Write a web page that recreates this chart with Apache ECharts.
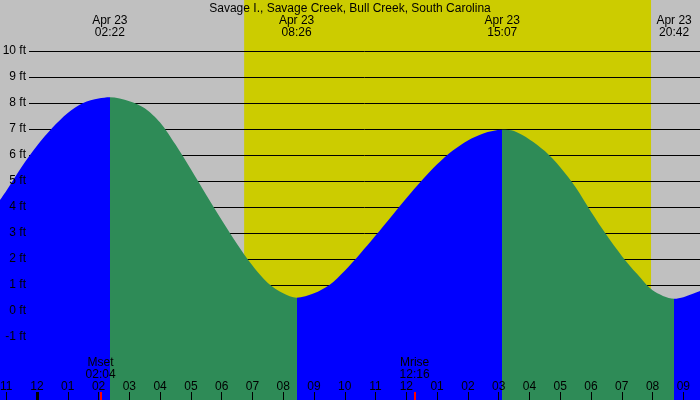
<!DOCTYPE html>
<html>
<head>
<meta charset="utf-8">
<script src="https://cdn.jsdelivr.net/npm/echarts@6.0.0/dist/echarts.min.js"></script>
</head>
<body style="margin: 0">
<div id="main" style="width: 700px; height: 400px"></div>
<script type="text/javascript">
// hours are counted from midnight, Apr 23
var chartTitle = 'Savage I., Savage Creek, Bull Creek, South Carolina';
var tideHours = [-1.202, -1.0, -0.5, 0.0, 0.5, 1.0, 1.5, 2.0, 2.367, 3.0, 3.5, 4.0, 4.5,
  5.0, 5.5, 6.0, 6.5, 7.0, 7.5, 8.0, 8.433, 9.0, 9.5, 10.0, 10.5, 11.0, 11.5,
  12.0, 12.5, 13.0, 13.5, 14.0, 14.5, 15.117, 15.5, 16.0, 16.5, 17.0, 17.5,
  18.0, 18.5, 19.0, 19.5, 20.0, 20.7, 21.0, 21.541];
var tideFeet = [4.27, 4.62, 5.54, 6.36, 7.05, 7.62, 8.0, 8.17, 8.22, 8.07, 7.8, 7.25, 6.4,
  5.45, 4.46, 3.5, 2.58, 1.75, 1.08, 0.68, 0.51, 0.68, 1.0, 1.55, 2.2, 2.9, 3.62,
  4.34, 5.02, 5.64, 6.16, 6.56, 6.83, 6.97, 6.92, 6.6, 6.15, 5.53, 4.76,
  3.82, 2.93, 2.12, 1.42, 0.8, 0.47, 0.53, 0.77];
var extremeHours = [2.367, 8.433, 15.117, 20.700];
var extremeKinds = ['H', 'L', 'H', 'L'];
var extremeLabels = ['Apr 23\n02:22', 'Apr 23\n08:26', 'Apr 23\n15:07', 'Apr 23\n20:42'];
var moonHours = [2.067, 12.267];
var moonLabels = ['Mset\n02:04', 'Mrise\n12:16'];
var sunriseHour = 6.73;
var sunsetHour = 19.95;
var hourTicks = [];
for (var h = -1; h <= 21; h++) hourTicks.push(h);
var viewStart = -1.202, viewEnd = 21.541;
var feetMin = -3.423, feetMax = 11.962;

var FONT = 'Liberation Sans';
var risingColor = '#0000ff', fallingColor = '#2e8b57';

var tideData = [];
for (var i = 0; i < tideHours.length; i++) tideData.push([tideHours[i], tideFeet[i]]);

// rising toward a high = blue, falling toward a low = green
var pieces = [];
for (var k = 0; k <= extremeHours.length; k++) {
  var p = {};
  if (k > 0) p.gte = extremeHours[k - 1];
  if (k < extremeHours.length) {
    p.lt = extremeHours[k];
    p.color = extremeKinds[k] === 'H' ? risingColor : fallingColor;
  } else {
    p.color = extremeKinds[k - 1] === 'H' ? fallingColor : risingColor;
  }
  pieces.push(p);
}

function lookup(keys, labels, v) {
  for (var j = 0; j < keys.length; j++) {
    if (Math.abs(keys[j] - v) < 1e-6) return labels[j];
  }
  return '';
}
function hourLabel(v) {
  var hh = ((Math.round(v) % 12) + 12) % 12;
  if (hh === 0) hh = 12;
  return (hh < 10 ? '0' : '') + hh;
}

var txt = { color: '#000', fontSize: 12, fontFamily: FONT, lineHeight: 12 };
function bottomAxis(extra) {
  var a = {
    gridIndex: 0, type: 'value', position: 'bottom', min: viewStart, max: viewEnd, z: 10,
    axisLine: { show: false, onZero: false }, splitLine: { show: false }
  };
  for (var key in extra) a[key] = extra[key];
  return a;
}

var myChart = echarts.init(document.getElementById('main'));
var option = {
  animation: false,
  backgroundColor: '#c0c0c0',
  title: {
    text: chartTitle, left: 'center', top: 3, padding: 0,
    textStyle: { color: '#000', fontSize: 12, fontWeight: 'normal', fontFamily: FONT, lineHeight: 12 }
  },
  grid: [
    { left: 0, right: 0, top: 0, bottom: 0, outerBoundsMode: 'none' },
    { left: 29, right: 0, top: 51, bottom: 63, outerBoundsMode: 'none' }
  ],
  xAxis: [
    bottomAxis({
      axisTick: { customValues: hourTicks, inside: true, length: 8, lineStyle: { color: '#000', width: 1 } },
      axisLabel: Object.assign({ customValues: hourTicks, inside: true, margin: 7, formatter: hourLabel }, txt)
    }),
    bottomAxis({
      axisTick: { customValues: [0], inside: true, length: 8, lineStyle: { color: '#000', width: 3 } },
      axisLabel: { show: false }
    }),
    bottomAxis({
      axisTick: { customValues: moonHours, inside: true, length: 8, lineStyle: { color: '#ff0000', width: 2 } },
      axisLabel: Object.assign({
        customValues: moonHours, inside: true, margin: 19,
        formatter: function (v) { return lookup(moonHours, moonLabels, v); }
      }, txt)
    }),
    {
      gridIndex: 0, type: 'value', position: 'top', min: viewStart, max: viewEnd, z: 10,
      axisLine: { show: false, onZero: false }, axisTick: { show: false }, splitLine: { show: false },
      axisLabel: Object.assign({
        customValues: extremeHours, inside: true, margin: 15,
        formatter: function (v) { return lookup(extremeHours, extremeLabels, v); }
      }, txt)
    },
    { gridIndex: 1, type: 'value', show: false, min: 0, max: 1 }
  ],
  yAxis: [
    { gridIndex: 0, type: 'value', min: feetMin, max: feetMax, show: false },
    {
      gridIndex: 1, type: 'value', min: -1, max: 10, interval: 1, z: 1.5,
      axisLine: { show: false }, axisTick: { show: false }, axisLabel: { show: false },
      splitLine: { show: true, lineStyle: { color: '#000', width: 1 } }
    },
    {
      gridIndex: 1, type: 'value', position: 'left', min: -1, max: 10, interval: 1, z: 10,
      axisLine: { show: false }, axisTick: { show: false }, splitLine: { show: false },
      axisLabel: Object.assign({ formatter: '{value} ft', margin: 3 }, txt)
    }
  ],
  visualMap: {
    type: 'piecewise', show: false, dimension: 0, seriesIndex: 0, pieces: pieces
  },
  series: [
    {
      name: 'tide', type: 'line', xAxisIndex: 0, yAxisIndex: 0, z: 2,
      data: tideData, smooth: 0.3, symbol: 'none',
      lineStyle: { width: 0 },
      areaStyle: { opacity: 1, origin: 'start' }
    },
    {
      name: 'daylight', type: 'line', xAxisIndex: 0, yAxisIndex: 0, z: 1,
      data: [],
      markArea: {
        silent: true, z: 1,
        itemStyle: { color: '#cccc00' },
        data: [[{ xAxis: sunriseHour }, { xAxis: sunsetHour }]]
      }
    }
  ]
};
myChart.setOption(option);
</script>
</body>
</html>
